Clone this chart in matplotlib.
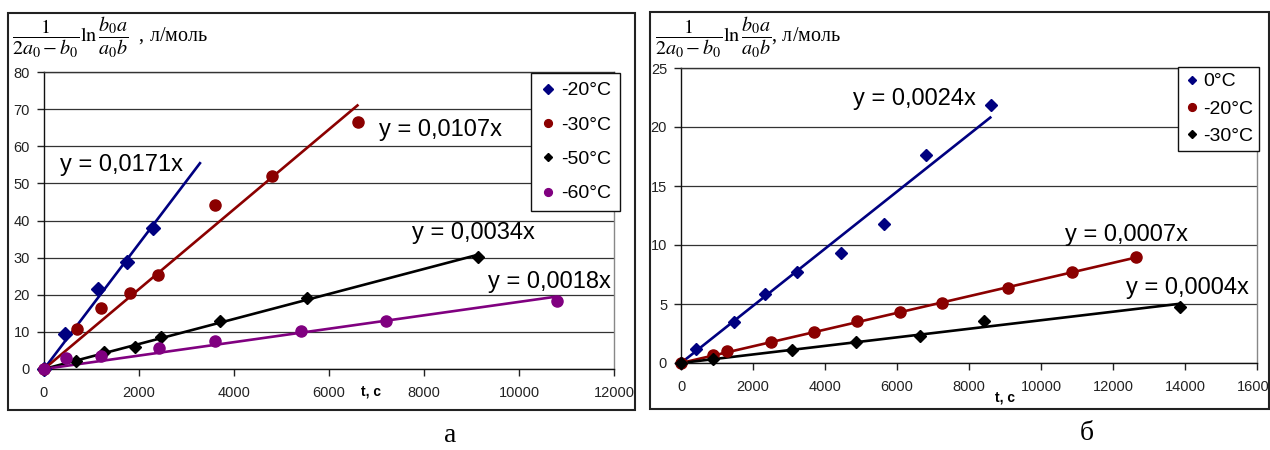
import numpy as np
import matplotlib
matplotlib.use('Agg')
import matplotlib.pyplot as plt
from matplotlib.patches import Rectangle
from matplotlib.transforms import Bbox, TransformedBbox

plt.rcParams['font.family'] = ['Liberation Sans', 'DejaVu Sans']
plt.rcParams['mathtext.fontset'] = 'stix'

# ---- panel а ----
a_labels = ['-20°C', '-30°C', '-50°C', '-60°C']
a_t = [
    [0, 450, 1140, 1750, 2300],
    [0, 700, 1190, 1800, 2410, 3600, 4790, 6600],
    [0, 670, 1270, 1920, 2460, 3700, 5540, 9140],
    [0, 460, 1210, 2420, 3600, 5410, 7200, 10790],
]
a_y = [
    [0, 9.3, 21.6, 28.8, 37.9],
    [0, 10.9, 16.3, 20.6, 25.3, 44.3, 51.9, 66.6],
    [0, 2.2, 4.5, 6.0, 8.5, 12.9, 19.2, 30.3],
    [0, 2.9, 3.6, 5.6, 7.5, 10.3, 13.0, 18.4],
]
a_trend_tmax = [3300, 6620, 9140, 10790]
a_eq = ['y = 0,0171x', 'y = 0,0107x', 'y = 0,0034x', 'y = 0,0018x']
a_xticks = [0, 2000, 4000, 6000, 8000, 10000, 12000]
a_yticks = [0, 10, 20, 30, 40, 50, 60, 70, 80]

# ---- panel б ----
b_labels = ['0°C', '-20°C', '-30°C']
b_t = [
    [0, 415, 1460, 2340, 3230, 4440, 5640, 6810, 8600],
    [0, 895, 1280, 2510, 3700, 4890, 6090, 7260, 9070, 10850, 12650],
    [0, 895, 3080, 4860, 6640, 8430, 13870],
]
b_y = [
    [0, 1.2, 3.5, 5.85, 7.7, 9.3, 11.8, 17.6, 21.9],
    [0, 0.64, 1.04, 1.75, 2.63, 3.53, 4.32, 5.08, 6.32, 7.74, 8.95],
    [0, 0.36, 1.13, 1.78, 2.29, 3.58, 4.75],
]
b_trend_tmax = [8620, 12650, 13900]
b_eq = ['y = 0,0024x', 'y = 0,0007x', 'y = 0,0004x']
b_xticks = [0, 2000, 4000, 6000, 8000, 10000, 12000, 14000, 16000]
b_yticks = [0, 5, 10, 15, 20, 25]

a_colors = ['#000080', '#8B0000', '#000000', '#800080']
a_markers = ['D', 'o', 'D', 'o']
a_msize = [6.8, 8.0, 5.8, 8.0]
b_colors = ['#000080', '#8B0000', '#000000']
b_markers = ['D', 'o', 'D']
b_msize = [6.2, 8.0, 5.8]

W, H = 1270, 450


def fx(px):
    return px / W


def fy(py):
    return 1 - py / H


fig = plt.figure(figsize=(12.7, 4.5), dpi=100)


def make_axes(x0, x1, ytop, ybot):
    return fig.add_axes([fx(x0), fy(ybot), fx(x1) - fx(x0), fy(ytop) - fy(ybot)])


def style_axes(ax, xticks, yticks, clip_px):
    ax.set_xlim(xticks[0], xticks[-1])
    ax.set_ylim(yticks[0], yticks[-1])
    ax.set_xticks(xticks)
    ax.set_yticks(yticks)
    ax.tick_params(axis='both', direction='out', length=5, width=1,
                   labelsize=10.5, colors='#222222')
    ax.tick_params(axis='x', pad=7)
    ax.tick_params(axis='y', pad=5)
    ax.yaxis.grid(True, color='#333333', lw=0.9)
    ax.set_axisbelow(True)
    ax.spines['left'].set_color('#111111')
    ax.spines['bottom'].set_color('#111111')
    ax.spines['top'].set_color('#333333')
    ax.spines['right'].set_color('#888888')
    for s in ax.spines.values():
        s.set_linewidth(1.0)
    x0, y0, x1, y1 = clip_px
    cb = TransformedBbox(Bbox.from_extents(fx(x0), fy(y1), fx(x1), fy(y0)), fig.transFigure)
    for lab in ax.get_xticklabels() + ax.get_yticklabels():
        lab.set_clip_box(cb)
        lab.set_clip_on(True)


def draw_series(ax, ts, ys, tmax, colors, markers, msize, labels):
    for t, y, te, c, m, ms, lab in zip(ts, ys, tmax, colors, markers, msize, labels):
        t = np.array(t, float)
        y = np.array(y, float)
        k = np.sum(t * y) / np.sum(t * t)
        tl = np.array([0, te])
        ax.plot(tl, k * tl, color=c, lw=1.9, zorder=3, solid_capstyle='butt')
        ax.plot(t, y, ls='none', marker=m, ms=ms, color=c, mec=c, label=lab,
                zorder=4, clip_on=False)


# frames around the two charts
fig.add_artist(Rectangle((fx(8), fy(410)), fx(635) - fx(8), fy(13) - fy(410),
                         transform=fig.transFigure, fill=False, ec='#222222', lw=1.5))
fig.add_artist(Rectangle((fx(650), fy(409)), fx(1269) - fx(650), fy(12) - fy(409),
                         transform=fig.transFigure, fill=False, ec='#222222', lw=1.5))

# ---- left chart ----
axA = make_axes(44, 614, 72, 369)
draw_series(axA, a_t, a_y, a_trend_tmax, a_colors, a_markers, a_msize, a_labels)
style_axes(axA, a_xticks, a_yticks, (8, 13, 635, 410))
a_eq_pos = [(337, 54.9), (7053, 64.4), (7747, 36.6), (9347, 23.4)]
for (xx, yy), s in zip(a_eq_pos, a_eq):
    axA.text(xx, yy, s, fontsize=17, ha='left', va='center', zorder=5)
legA = axA.legend(loc='upper left', bbox_to_anchor=(fx(531), fy(73)),
                  bbox_transform=fig.transFigure, borderaxespad=0, fontsize=14,
                  frameon=True, fancybox=False, edgecolor='#111111', framealpha=1,
                  markerscale=0.7, handlelength=0.8, handletextpad=0.3,
                  borderpad=0.45, labelspacing=0.86)
legA.get_frame().set_linewidth(1.0)
legA.set_zorder(6)

# ---- right chart ----
axB = make_axes(681, 1257, 68, 363)
draw_series(axB, b_t, b_y, b_trend_tmax, b_colors, b_markers, b_msize, b_labels)
style_axes(axB, b_xticks, b_yticks, (650, 12, 1269, 409))
b_eq_pos = [(4778, 22.4), (10667, 10.85), (12361, 6.36)]
for (xx, yy), s in zip(b_eq_pos, b_eq):
    axB.text(xx, yy, s, fontsize=17, ha='left', va='center', zorder=5)
legB = axB.legend(loc='upper left', bbox_to_anchor=(fx(1178), fy(67)),
                  bbox_transform=fig.transFigure, borderaxespad=0, fontsize=14,
                  frameon=True, fancybox=False, edgecolor='#111111', framealpha=1,
                  markerscale=0.7, handlelength=0.8, handletextpad=0.2,
                  borderpad=0.3, labelspacing=0.5)
legB.get_frame().set_linewidth(1.0)
legB.set_zorder(6)

# y-axis titles (formula) and x-axis titles
serif = ['Liberation Serif', 'DejaVu Serif']
fig.text(fx(12), fy(37), r'$\dfrac{1}{2a_0-b_0}\ln\dfrac{b_0a}{a_0b}$  , л/моль',
         fontsize=14.5, family=serif, ha='left', va='center')
fig.text(fx(655), fy(37), r'$\dfrac{1}{2a_0-b_0}\ln\dfrac{b_0a}{a_0b}$, л/моль',
         fontsize=14.5, family=serif, ha='left', va='center')
fig.text(fx(371), fy(391), 't, c', fontsize=10, fontweight='bold', ha='center', va='center')
fig.text(fx(1005), fy(397), 't, c', fontsize=10, fontweight='bold', ha='center', va='center')

# panel letters
fig.text(fx(450), fy(435), 'а', fontsize=20, family=serif, ha='center', va='center')
fig.text(fx(1087), fy(433), 'б', fontsize=20, family=serif, ha='center', va='center')

fig.savefig('out.png', dpi=100)
